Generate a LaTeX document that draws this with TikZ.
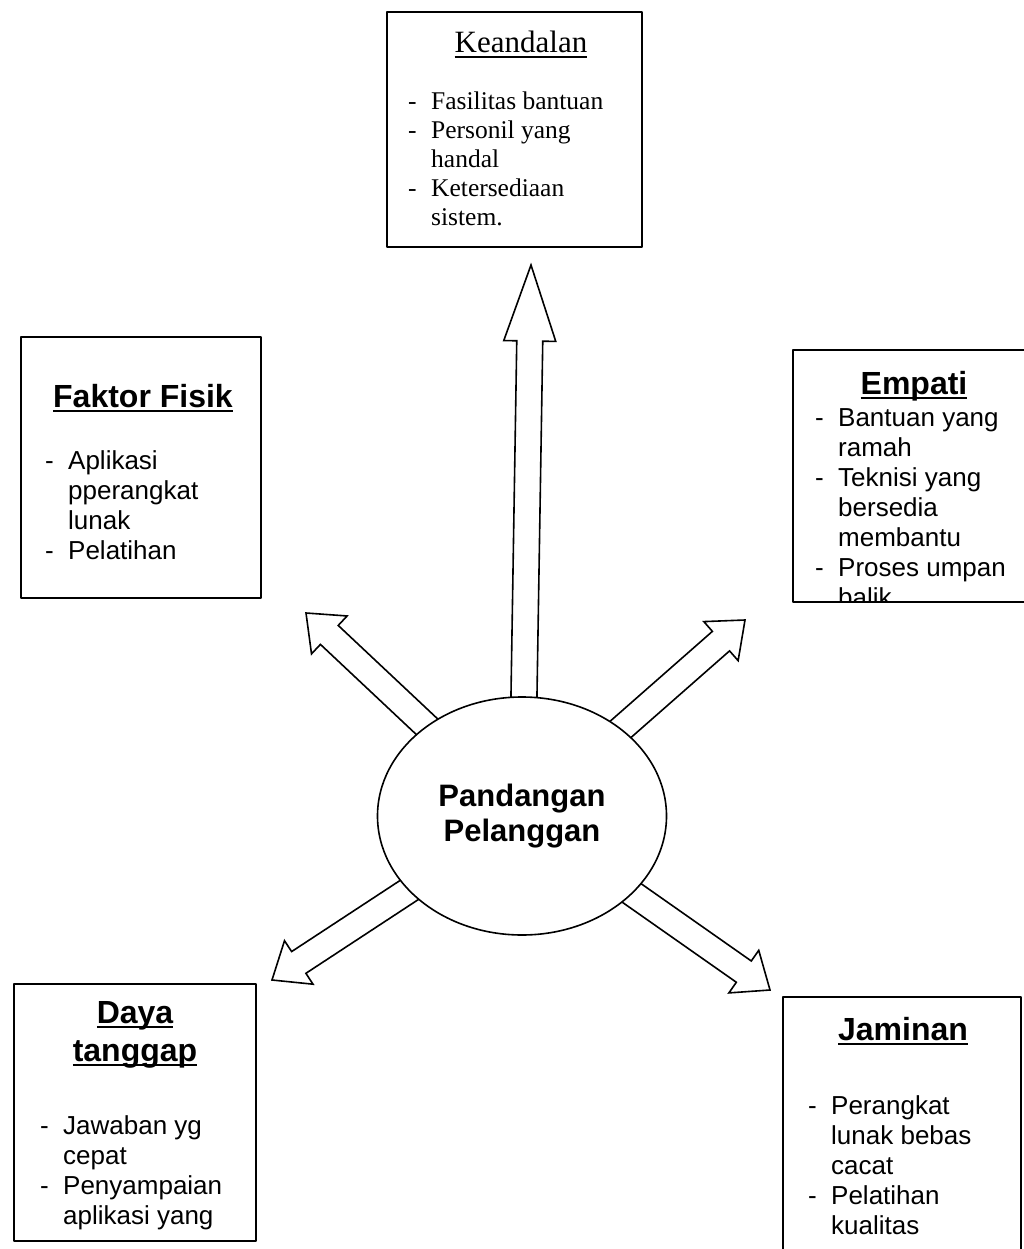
\documentclass[tikz,border=0pt]{standalone}
\usepackage{fontspec}
\setmainfont{Liberation Serif}
\setsansfont{Liberation Sans}
\usetikzlibrary{shapes.geometric,calc,backgrounds}

\newcommand{\dsh}{\makebox[23pt][l]{-}}
\newcommand{\ind}{\hspace*{23pt}}
\newcommand{\uln}[1]{\leavevmode\setbox0\hbox{#1}\rlap{\rule[-0.16em]{\wd0}{0.06em}}\box0}
\newcommand{\blockarrow}[3]{%
  \coordinate (hb) at ($(#2)!#3!(#1)$);
  \draw[blockarr] ($(#1)!13pt!90:(#2)$) -- ($(hb)!13pt!90:(#2)$) -- ($(hb)!26pt!90:(#2)$) -- (#2)
    -- ($(hb)!26pt!-90:(#2)$) -- ($(hb)!13pt!-90:(#2)$) -- ($(#1)!13pt!-90:(#2)$) -- cycle;}

\tikzset{
  card/.style={draw, line width=1.6pt, fill=white, inner sep=0pt},
  blockarr/.style={draw, line width=1.6pt, fill=white, line join=miter},
  sanshead/.style={font=\sffamily\bfseries\fontsize{32}{38}\selectfont, inner sep=0pt, anchor=base},
  sansitems/.style={font=\sffamily\fontsize{26}{30}\selectfont, inner sep=0pt, anchor=base west},
  serifhead/.style={font=\rmfamily\fontsize{31}{36}\selectfont, inner sep=0pt, anchor=base},
  serifitems/.style={font=\rmfamily\fontsize{25.5}{28.8}\selectfont, inner sep=0pt, anchor=base west}
}

\begin{document}
\begin{tikzpicture}[line cap=round,line join=round,x=1pt,y=-1pt]
          \useasboundingbox (0,0) rectangle (1024,1249);

          \node[ellipse, draw, line width=1.6pt, fill=white, inner sep=0pt,
                minimum width=289, minimum height=238, align=center,
                font=\sffamily\bfseries\fontsize{31}{35}\selectfont] (pp) at (522,816) {Pandangan\\Pelanggan};

          \coordinate (tK) at (531,265);
          \coordinate (tF) at (306,613);
          \coordinate (tE) at (745,620);
          \coordinate (tD) at (272,980);
          \coordinate (tJ) at (770,990);

          \begin{scope}[on background layer]
            \blockarrow{pp}{tK}{76pt}
            \blockarrow{pp}{tF}{32pt}
            \blockarrow{pp}{tE}{32pt}
            \blockarrow{pp}{tD}{32pt}
            \blockarrow{pp}{tJ}{32pt}
          \end{scope}

          \node[card, minimum width=255, minimum height=235] (kBox) at (514.5,129.5) {};
          \node[card, minimum width=240, minimum height=261] (fBox) at (141,467.5) {};
          \node[card, minimum width=241, minimum height=252] (eBox) at (913.5,476) {};
          \node[card, minimum width=242, minimum height=257] (dBox) at (135,1112.5) {};
          \node[card, minimum width=238, minimum height=265] (jBox) at (902,1129.5) {};

          \node[serifhead] (kTitle) at (521,53) {\uln{Keandalan}};
          \node[serifitems] (kList) at (408,110) {\begin{tabular}[t]{@{}l@{}}
            \dsh Fasilitas bantuan\\ \dsh Personil yang\\ \ind handal\\ \dsh Ketersediaan\\ \ind sistem.
          \end{tabular}};

          \node[sanshead] (fTitle) at (143,407) {\uln{Faktor Fisik}};
          \node[sansitems] (fList) at (45,469) {\begin{tabular}[t]{@{}l@{}}
            \dsh Aplikasi\\ \ind pperangkat\\ \ind lunak\\ \dsh Pelatihan
          \end{tabular}};

          \node[sanshead] (eTitle) at (914,394) {\uln{Empati}};
          \begin{scope}
            \clip (eBox.south west) rectangle (eBox.north east);
            \node[sansitems] (eList) at (815,426) {\begin{tabular}[t]{@{}l@{}}
              \dsh Bantuan yang\\ \ind ramah\\ \dsh Teknisi yang\\ \ind bersedia\\ \ind membantu\\ \dsh Proses umpan\\ \ind balik
            \end{tabular}};
          \end{scope}

          \node[sanshead] (dTitle) at (135,1023) {\begin{tabular}[t]{@{}c@{}}
            \uln{Daya}\\ \uln{tanggap}
          \end{tabular}};
          \node[sansitems] (dList) at (40,1134) {\begin{tabular}[t]{@{}l@{}}
            \dsh Jawaban yg\\ \ind cepat\\ \dsh Penyampaian\\ \ind aplikasi yang
          \end{tabular}};

          \node[sanshead] (jTitle) at (903,1040) {\uln{Jaminan}};
          \node[sansitems] (jList) at (808,1114) {\begin{tabular}[t]{@{}l@{}}
            \dsh Perangkat\\ \ind lunak bebas\\ \ind cacat\\ \dsh Pelatihan\\ \ind kualitas
          \end{tabular}};

        \end{tikzpicture}
\end{document}
